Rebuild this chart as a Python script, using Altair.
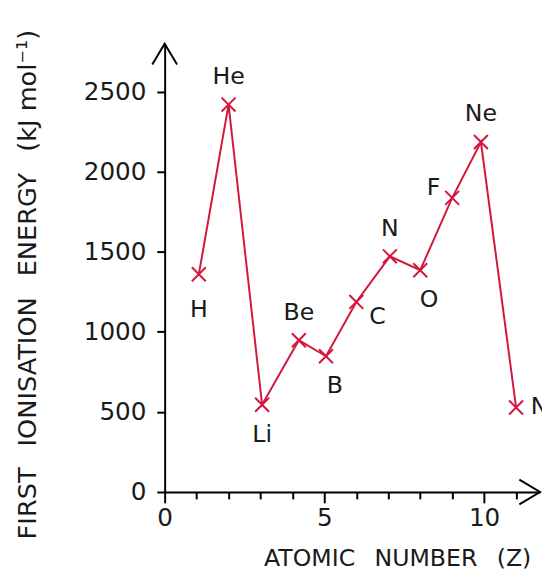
import altair as alt
import pandas as pd

# ---- data ----
elements = ["H", "He", "Li", "Be", "B", "C", "N", "O", "F", "Ne", "Na"]
atomic_number = [1.07, 2.0, 3.05, 4.2, 5.05, 6.0, 7.05, 8.0, 9.0, 9.9, 11.0]
ionisation_energy = [1360, 2420, 545, 948, 848, 1187, 1472, 1385, 1837, 2186, 528]
label_side = ["belowlow", "above", "below", "above", "belowright", "lowright",
              "above", "belowright", "left", "above", "right"]

y_ticks = [0, 500, 1000, 1500, 2000, 2500]
x_ticks = list(range(0, 12))
x_max = 11.75
y_max = 2800

df = pd.DataFrame({
    "Z": atomic_number,
    "E": ionisation_energy,
    "el": elements,
    "side": label_side,
})

RED = "#d3163c"
FONT = "DejaVu Sans"
INK = "#1a1a1a"
GAP = "\u2002 "

xs = alt.Scale(domain=[0, x_max], nice=False, zero=False)
ys = alt.Scale(domain=[0, y_max], nice=False)

base = alt.Chart(df)

line = base.mark_line(color=RED, strokeWidth=2).encode(
    x=alt.X("Z:Q", scale=xs, axis=alt.Axis(
        values=x_ticks, tickCount=len(x_ticks), format="d",
        labelExpr="datum.value % 5 === 0 ? datum.label : ''",
        tickSize={"condition": {"test": "datum.value % 5 === 0", "value": 11},
                  "value": 7},
        tickWidth=2, domainWidth=2,
        domainColor="black", tickColor="black", labelFontSize=25,
        labelFont=FONT, labelColor=INK, labelPadding=3, grid=False,
        title="ATOMIC" + GAP + "NUMBER" + GAP + "(Z)", titleFont=FONT,
        titleFontSize=24, titleFontWeight="normal", titleColor=INK,
        titleX=236, titleY=68, titleAlign="center",
        titleBaseline="middle",
        labelFlush=False, labelOverlap=False)),
    y=alt.Y("E:Q", scale=ys, axis=alt.Axis(
        values=y_ticks, format="d", tickSize=8, tickWidth=2, domainWidth=2,
        domainColor="black", tickColor="black", labelFontSize=25,
        labelFont=FONT, labelColor=INK, labelPadding=11, grid=False,
        title="FIRST" + GAP + "IONISATION" + GAP + "ENERGY" + GAP + "(kJ mol⁻¹)",
        titleFont=FONT,
        titleFontSize=26, titleFontWeight="normal", titleColor=INK,
        titleX=-139, titleY=244, titleAngle=270, titleAlign="center",
        titleBaseline="middle", labelFlush=False)),
)

points = base.mark_point(
    shape="M-1,-1L1,1M-1,1L1,-1", size=200, filled=False,
    color=RED, strokeWidth=2, opacity=1).encode(
    x=alt.X("Z:Q", scale=xs),
    y=alt.Y("E:Q", scale=ys),
)

offsets = {
    "above": dict(dx=0, dy=-28, align="center"),
    "below": dict(dx=0, dy=31, align="center"),
    "belowlow": dict(dx=0, dy=36, align="center"),
    "belowright": dict(dx=9, dy=30, align="center"),
    "lowright": dict(dx=13, dy=15, align="left"),
    "right": dict(dx=15, dy=0, align="left"),
    "left": dict(dx=-12, dy=-10, align="right"),
}

label_layers = []
for side, o in offsets.items():
    label_layers.append(
        base.transform_filter(alt.datum.side == side).mark_text(
            font=FONT, fontSize=24, color=INK, baseline="middle", **o
        ).encode(x=alt.X("Z:Q", scale=xs), y=alt.Y("E:Q", scale=ys),
                 text="el:N")
    )

arrow_df = pd.DataFrame({
    "x": [0, x_max],
    "y": [y_max, 0],
    "shape": ["M-0.6,1L0,0L0.6,1", "M-1,-0.6L0,0L-1,0.6"],
})
arrows = alt.Chart(arrow_df).mark_point(
    filled=False, size=1764, color="black", strokeWidth=2, opacity=1
).encode(
    x=alt.X("x:Q", scale=xs),
    y=alt.Y("y:Q", scale=ys),
    shape=alt.Shape("shape:N", scale=None),
)

chart = alt.layer(line, points, *label_layers, arrows).properties(
    width=381, height=455,
    autosize=alt.AutoSizeParams(type="none"),
    padding={"left": 159, "top": 32, "right": 2, "bottom": 80},
    background="white",
).configure_view(stroke=None)

chart.save("out.html", embed_options={"renderer": "svg", "actions": False})
